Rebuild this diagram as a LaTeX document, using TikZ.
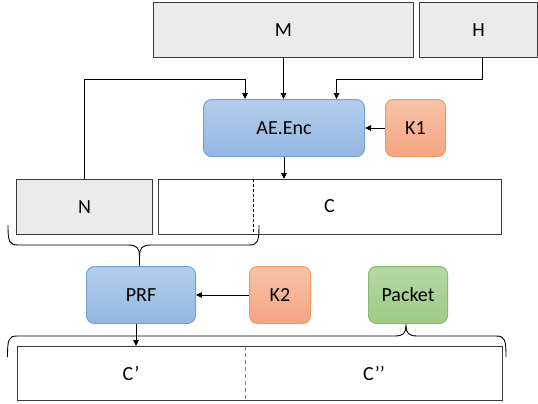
\documentclass[tikz,border=0pt]{standalone}
\usepackage{fontspec}
\setmainfont{Carlito}
\usetikzlibrary{arrows.meta,calc}
\definecolor{grayfill}{HTML}{EBEBEB}
\definecolor{boxline}{HTML}{3A3A3A}
\definecolor{blueTop}{HTML}{B4CEEB}
\definecolor{blueBot}{HTML}{93B7E2}
\definecolor{blueLine}{HTML}{72A2D9}
\definecolor{orTop}{HTML}{F8C3A8}
\definecolor{orBot}{HTML}{F4A482}
\definecolor{orLine}{HTML}{EF9A63}
\definecolor{grTop}{HTML}{B7D8A5}
\definecolor{grBot}{HTML}{9DCA85}
\definecolor{grLine}{HTML}{88BA6C}
\begin{document}
\begin{tikzpicture}[x=1pt,y=-1pt,
  txt/.style={font=\fontsize{20}{24}\selectfont, text=black},
  base/.style={txt, inner sep=0pt, anchor=north west, line width=1pt},
  graybox/.style={base, draw=boxline, fill=grayfill},
  whitebox/.style={base, draw=boxline, fill=white},
  bluebox/.style={base, rounded corners=8pt, draw=blueLine, top color=blueTop, bottom color=blueBot},
  orbox/.style={base, rounded corners=8pt, draw=orLine, top color=orTop, bottom color=orBot},
  grbox/.style={base, rounded corners=8pt, draw=grLine, top color=grTop, bottom color=grBot},
  conn/.style={line width=0.9pt, draw=black},
  arr/.style={conn, -{Triangle[length=6pt,width=5.5pt]}},
  bracepath/.style={line width=0.9pt, draw=black, rounded corners=6pt}
]
\useasboundingbox (0,0) rectangle (538,404);

% top row
\node[graybox, minimum width=260pt, minimum height=55pt] (M) at (153,2) {M};
\node[graybox, minimum width=118pt, minimum height=55pt] (H) at (419,2) {H};

% encryption
\node[bluebox, minimum width=161pt, minimum height=57pt] (AE) at (203,99) {AE.Enc};
\node[orbox, minimum width=60pt, minimum height=57pt] (K1) at (385,99) {K1};

% N and C
\node[graybox, minimum width=136pt, minimum height=55pt] (N) at (16,179) {N};
\node[whitebox, minimum width=343pt, minimum height=55pt] (C) at (158,179) {};
\node[txt] (Ct) at (329.5,206.5) {C};
\coordinate (cd) at (253.5,179);
\draw[line width=0.9pt, dash pattern=on 3pt off 2pt] (cd) -- (cd |- C.south);

% PRF row
\node[bluebox, minimum width=109pt, minimum height=57pt] (PRF) at (86,266) {PRF};
\node[orbox, minimum width=61pt, minimum height=57pt] (K2) at (249,266) {K2};
\node[grbox, minimum width=79pt, minimum height=57pt] (P) at (368,266) {Packet};

% bottom
\node[whitebox, minimum width=485pt, minimum height=54pt] (CC) at (16.5,346) {};
\coordinate (bd) at (245,346);
\draw[line width=1pt, draw=gray, dash pattern=on 4pt off 3pt] (bd) -- (bd |- CC.south);
\node[txt] (Cp) at (131,374) {C’};
\node[txt] (Cpp) at (374,374) {C’’};

% connectors
\draw[arr] (M.south) -- (M.south |- AE.north);
\coordinate (hx) at (482,0);
\coordinate (ha) at (336.5,0);
\draw[arr] (hx |- H.south) -- (482,79) -- (ha |- 0,79) -- (ha |- AE.north);
\coordinate (nx) at (84,0);
\coordinate (na) at (245,0);
\draw[arr] (nx |- N.north) -- (84,79) -- (na |- 0,79) -- (na |- AE.north);
\draw[arr] (K1.west) -- (AE.east);
\draw[arr] (AE.south) -- (AE.south |- C.north);
\draw[arr] (K2.west) -- (PRF.east);
\coordinate (px) at (136,0);
\draw[arr] (px |- PRF.south) -- (px |- CC.north);

% upper brace
\coordinate (ut) at (139.5,0);
\draw[line width=0.9pt] (8,225) .. controls (8,241) and (9,245) .. (18,245) -- (128,245)
   .. controls (137,245) and (139.5,248) .. (139.5,257) -- (ut |- PRF.north);
\draw[line width=0.9pt] (259,225) .. controls (259,241) and (258,245) .. (249,245) -- (151,245)
   .. controls (142,245) and (139.5,248) .. (139.5,257);

% lower brace
\coordinate (lt) at (406,0);
\draw[line width=0.9pt] (7.5,357) .. controls (7.5,340) and (8.5,336) .. (17,336) -- (395,336)
   .. controls (403,336) and (406,333) .. (406,326) -- (lt |- P.south);
\draw[line width=0.9pt] (506,357) .. controls (506,340) and (505,336) .. (496,336) -- (417,336)
   .. controls (409,336) and (406,333) .. (406,326);
\end{tikzpicture}
\end{document}
